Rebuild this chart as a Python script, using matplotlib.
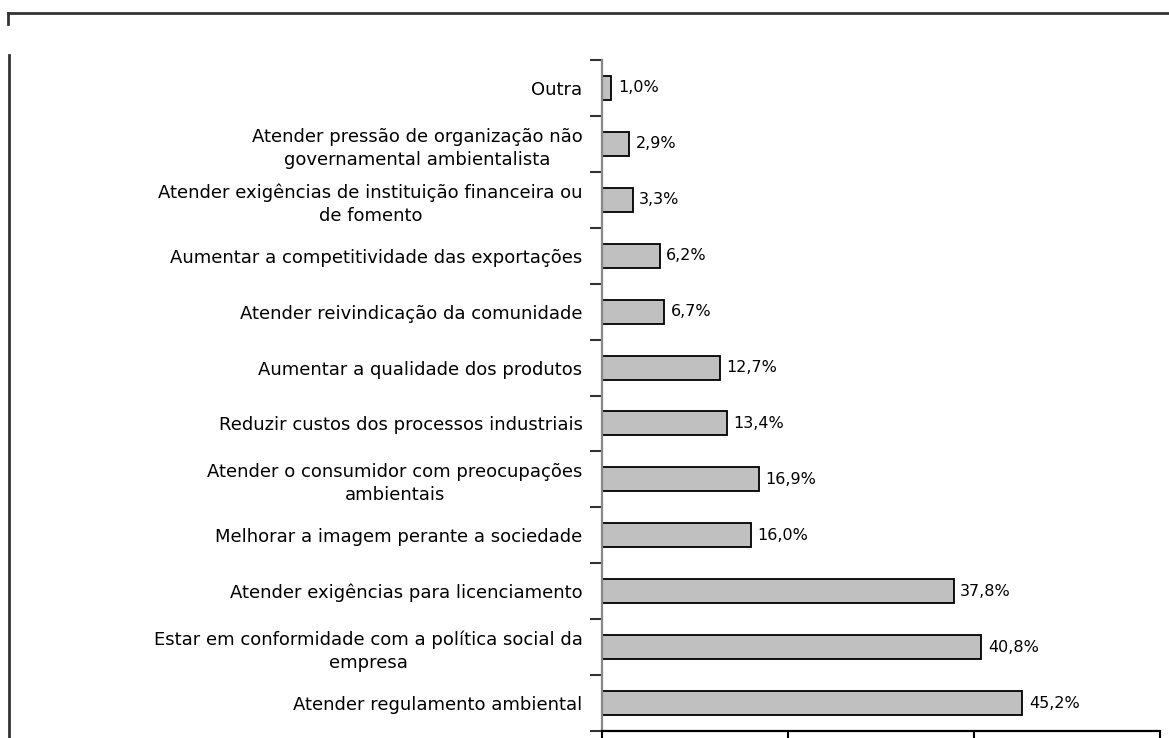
import numpy as np
import matplotlib.pyplot as plt
from matplotlib.lines import Line2D

# categorie (dall'alto verso il basso) e percentuali
categorie = [
    "Outra",
    "Atender pressão de organização não\ngovernamental ambientalista",
    "Atender exigências de instituição financeira ou\nde fomento",
    "Aumentar a competitividade das exportações",
    "Atender reivindicação da comunidade",
    "Aumentar a qualidade dos produtos",
    "Reduzir custos dos processos industriais",
    "Atender o consumidor com preocupações\nambientais",
    "Melhorar a imagem perante a sociedade",
    "Atender exigências para licenciamento",
    "Estar em conformidade com a política social da\nempresa",
    "Atender regulamento ambiental",
]
valori = [1.0, 2.9, 3.3, 6.2, 6.7, 12.7, 13.4, 16.9, 16.0, 37.8, 40.8, 45.2]
etichette = ["1,0%", "2,9%", "3,3%", "6,2%", "6,7%", "12,7%", "13,4%",
             "16,9%", "16,0%", "37,8%", "40,8%", "45,2%"]
xticks = [0, 20, 40, 60]

W, H = 1169, 738
fig = plt.figure(figsize=(W / 100, H / 100), dpi=100)
ax = fig.add_axes([602 / W, 7 / H, (1160 - 602) / W, (731 - 60) / H])

y = np.arange(len(categorie))
ax.barh(y, valori, height=0.43, color="#c0c0c0", edgecolor="black", linewidth=1.3)
for yi, v, lab in zip(y, valori, etichette):
    ax.text(v + 0.7, yi, lab, va="center", ha="left", fontsize=11.5)

ax.set_xlim(0, 60)
ax.set_ylim(len(categorie) - 0.5, -0.5)
ax.set_xticks(xticks)
ax.set_xticklabels([])

# tick delle categorie ai bordi, etichette al centro
ax.set_yticks(np.arange(len(categorie) + 1) - 0.5)
ax.set_yticklabels([])
ax.set_yticks(y, minor=True)
ax.set_yticklabels(categorie, minor=True, fontsize=13, multialignment="center",
                   linespacing=1.35)
ax.tick_params(axis="y", which="minor", length=0, pad=14)
ax.tick_params(axis="y", which="major", length=9, width=1.5, color="#333333")
ax.tick_params(axis="x", length=9, width=1.5)

for s in ["top", "right"]:
    ax.spines[s].set_visible(False)
ax.spines["left"].set_color("#888888")
ax.spines["left"].set_linewidth(1.6)
ax.spines["bottom"].set_linewidth(1.6)

# cornice esterna
def px(x, yy):
    return x / W, 1 - yy / H

for (x0, y0), (x1, y1) in [((8, 13), (1169, 13)), ((8, 13), (8, 24)), ((9, 55), (9, 738))]:
    a, b = px(x0, y0)
    c, d = px(x1, y1)
    fig.add_artist(Line2D([a, c], [b, d], transform=fig.transFigure, color="#333333", linewidth=2))

fig.savefig("out.png", dpi=100)
